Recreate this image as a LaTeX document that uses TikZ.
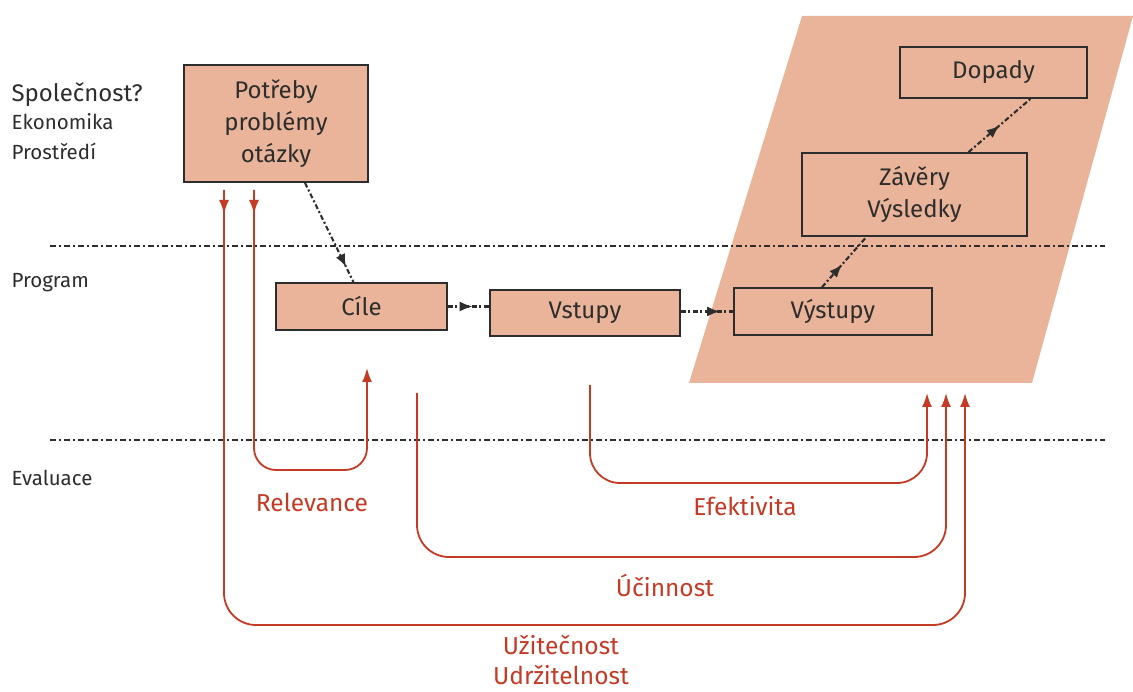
\documentclass[tikz,border=0pt]{standalone}
\usepackage{fontspec}
\setmainfont{Fira Sans}
\usetikzlibrary{arrows.meta,decorations.markings,calc}
\definecolor{boxfill}{RGB}{233,180,153}
\definecolor{evalred}{RGB}{196,58,36}
\definecolor{edge}{RGB}{45,45,45}

\begin{document}
\begin{tikzpicture}[x=1pt, y=-1pt,
  block/.style={draw=edge, fill=boxfill, line width=1.7pt, align=center, inner sep=0pt,
    text=edge, font=\fontsize{24}{32}\selectfont},
  flow/.style={draw=edge, line width=2.1pt, dash pattern=on 5pt off 2.5pt on 2pt off 2.5pt,
    postaction={decorate}, decoration={markings,
      mark=at position #1 with {\arrow{Latex[length=13pt,width=10pt]}}}},
  divider/.style={draw=edge, line width=1.5pt, dash pattern=on 6pt off 3pt on 2pt off 3pt},
  evalline/.style={draw=evalred, color=evalred, line width=1.8pt, rounded corners=#1,
    -{Latex[length=14pt,width=10pt]}},
  downmark/.style={postaction={decorate}, decoration={markings,
      mark=at position 24pt with {\arrow{Latex[length=14pt,width=10pt]}}}},
  side/.style={anchor=west, text=edge, font=\fontsize{20.5}{22}\selectfont},
  measure/.style={text=evalred, align=center, font=\fontsize{24.5}{30}\selectfont}]

  \useasboundingbox (0,0) rectangle (1133,692);

  % Result area
  \fill[boxfill] (802,16) -- (1133,16) -- (1032,383) -- (689,383) -- cycle;

  % Levels
  \draw[divider] (50,246) -- (1105,246);
  \draw[divider] (50,440) -- (1105,440);
  \node[side, font=\fontsize{24}{26}\selectfont] (spol) at (8,95) {Společnost?};
  \node[side] (ekon) at (8,122) {Ekonomika};
  \node[side] (pros) at (8,151) {Prostředí};
  \node[side] (prog) at (8,283) {Program};
  \node[side] (eval) at (8,478) {Evaluace};

  % Boxes
  \node[block, minimum width=184pt, minimum height=117pt] (potreby) at (276,123.5) {Potřeby\\problémy\\otázky};
  \node[block, minimum width=171pt, minimum height=47pt] (cile) at (361.5,306.5) {Cíle};
  \node[block, minimum width=190pt, minimum height=46pt] (vstupy) at (585,313) {Vstupy};
  \node[block, minimum width=198pt, minimum height=47pt] (vystupy) at (833,311.5) {Výstupy};
  \node[block, minimum width=225pt, minimum height=83pt] (zavery) at (914.5,194.5) {Závěry\\Výsledky};
  \node[block, minimum width=187pt, minimum height=51pt] (dopady) at (993.5,72.5) {Dopady};

  % Program chain
  \draw[flow=0.85] ($(potreby.south)+(29,0)$) -- ($(cile.north)+(-8,0)$);
  \draw[flow=0.6] (cile.east) -- (cile.east -| vstupy.west);
  \draw[flow=0.75] (vystupy.west -| vstupy.east) -- (vystupy.west);
  \draw[flow=0.45] ($(vystupy.north)+(-11,0)$) -- ($(zavery.south)+(-48,0)$);
  \draw[flow=0.5] ($(zavery.north)+(54,0)$) -- ($(dopady.south)+(37,0)$);

  % Evaluation criteria
  \coordinate (relS) at (254,190);
  \coordinate (relE) at (367,368);
  \coordinate (uziS) at (224,190);
  \coordinate (uziE) at (965,393);
  \coordinate (ucS) at (417,393);
  \coordinate (ucE) at (946,393);
  \coordinate (efS) at (590,385);
  \coordinate (efE) at (927,393);

  \draw[evalline=22pt, downmark] (relS) -- ++(0,280) -| (relE);
  \draw[evalline=32pt, downmark] (uziS) -- ++(0,435) -| (uziE);
  \draw[evalline=32pt] (ucS) -- ++(0,164) -| (ucE);
  \draw[evalline=30pt] (efS) -- ++(0,98) -| (efE);

  \node[measure] (relevance) at (312,502) {Relevance};
  \node[measure] (efektivita) at (745,506) {Efektivita};
  \node[measure] (ucinnost) at (665,585) {Účinnost};
  \node[measure] (uzitecnost) at (561,660) {Užitečnost\\Udržitelnost};

\end{tikzpicture}
\end{document}
